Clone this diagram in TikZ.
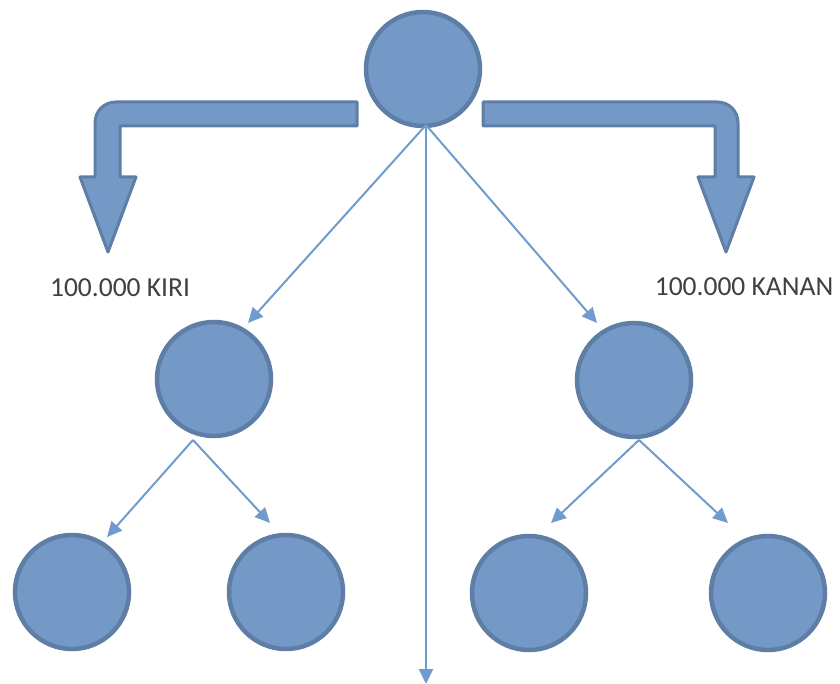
\documentclass[tikz,border=0pt]{standalone}
\usepackage{fontspec}
\setmainfont{Carlito}
\usetikzlibrary{arrows.meta}
\definecolor{cfill}{HTML}{7499C7}
\definecolor{cedge}{HTML}{5E7EA5}
\definecolor{cline}{HTML}{6F9BCE}
\definecolor{ctext}{HTML}{404040}
\tikzset{
  ball/.style={circle, draw=cedge, fill=cfill, line width=4.5pt, minimum size=114pt, inner sep=0pt},
  link/.style={draw=cline, line width=2pt, -{Triangle[length=15pt,width=14pt]}},
  bigarrow/.style={draw=cedge, fill=cfill, line width=3pt, line join=round},
  lbl/.style={text=ctext, font=\fontsize{27.5pt}{30pt}\selectfont, inner sep=0pt}
}
\begin{document}
\begin{tikzpicture}[x=1pt,y=-1pt]
\useasboundingbox (0,0) rectangle (840,684);
% block arrows
\draw[bigarrow] (357,102) -- (116,102) .. controls (104,102) and (95,111) .. (95,123)
  -- (95,177) -- (80,177) -- (108,252) -- (136,177) -- (120,177) -- (120,126) -- (357,126) -- cycle;
\draw[bigarrow] (483,102) -- (717,102) .. controls (729,102) and (738,111) .. (738,123)
  -- (738,177) -- (754,177) -- (726,252) -- (698,177) -- (715,177) -- (715,126) -- (483,126) -- cycle;
% labels
\node[lbl] (kiri) at (120,288) {100.000 KIRI};
\node[lbl] (kanan) at (744,287) {100.000 KANAN};
% circles
\node[ball] (top) at (423,69) {};
\node[ball] (ml) at (214,379) {};
\node[ball] (mr) at (634,380) {};
\node[ball] (b1) at (72,592) {};
\node[ball] (b2) at (286,592) {};
\node[ball] (b3) at (529,593) {};
\node[ball] (b4) at (768,593) {};
% split points and tips
\coordinate (ts) at (426,125);
\coordinate (ls) at (193,440);
\coordinate (rs) at (639,440);
\coordinate (tml) at (248,323);
\coordinate (tmr) at (597,323);
\coordinate (tdown) at (426,684);
\coordinate (tb1) at (107,537);
\coordinate (tb2) at (270,523);
\coordinate (tb3) at (551,523);
\coordinate (tb4) at (728,523);
% connectors
\draw[link] (ts) -- (tml);
\draw[link] (ts) -- (tmr);
\draw[link] (ts) -- (tdown);
\draw[link] (ls) -- (tb1);
\draw[link] (ls) -- (tb2);
\draw[link] (rs) -- (tb3);
\draw[link] (rs) -- (tb4);
\end{tikzpicture}
\end{document}
